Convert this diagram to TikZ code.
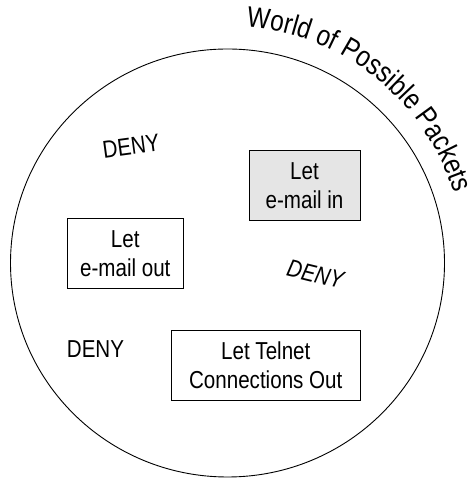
\documentclass[tikz,border=0pt]{standalone}
\usepackage{fontspec}
\newfontfamily\packetfont{Liberation Sans}[FakeStretch=0.84]
\usetikzlibrary{decorations.text}

\begin{document}
\begin{tikzpicture}[x=1pt, y=1pt,
        rule/.style={draw, line width=0.9pt, minimum width=#1, minimum height=70pt, inner sep=0pt, align=center, font=\packetfont\fontsize{24.5}{29}\selectfont},
        deny/.style={font=\packetfont\fontsize{24.5}{29}\selectfont}]
        \useasboundingbox (0,0) rectangle (475,478);
        \coordinate (centre) at (227.5,215);
        \draw[line width=0.9pt] (centre) ellipse [x radius=217, y radius=214];

        \path[decorate, decoration={text along path, text={|\packetfont\fontsize{29}{33}\selectfont|World of Possible Packets}}]
            ([shift={(85.5:237)}]centre) arc[start angle=85.5, end angle=0, radius=237];

        \node[rule=111pt, fill=gray!20] (mailin) at (304.5,292.8) {Let\\e-mail in};
        \node[rule=116.6pt] (mailout) at (125.3,224.1) {Let\\e-mail out};
        \node[rule=188.5pt] (telnet) at (265.75,113) {Let Telnet\\Connections Out};

        \node[deny, rotate=7.7] (deny-1) at (131,331.8) {DENY};
        \node[deny, rotate=-13.8, font=\packetfont\itshape\fontsize{24.5}{29}\selectfont] (deny-2) at (315.4,203.8) {DENY};
        \node[deny] (deny-3) at (95.5,129.1) {DENY};
    \end{tikzpicture}
\end{document}
